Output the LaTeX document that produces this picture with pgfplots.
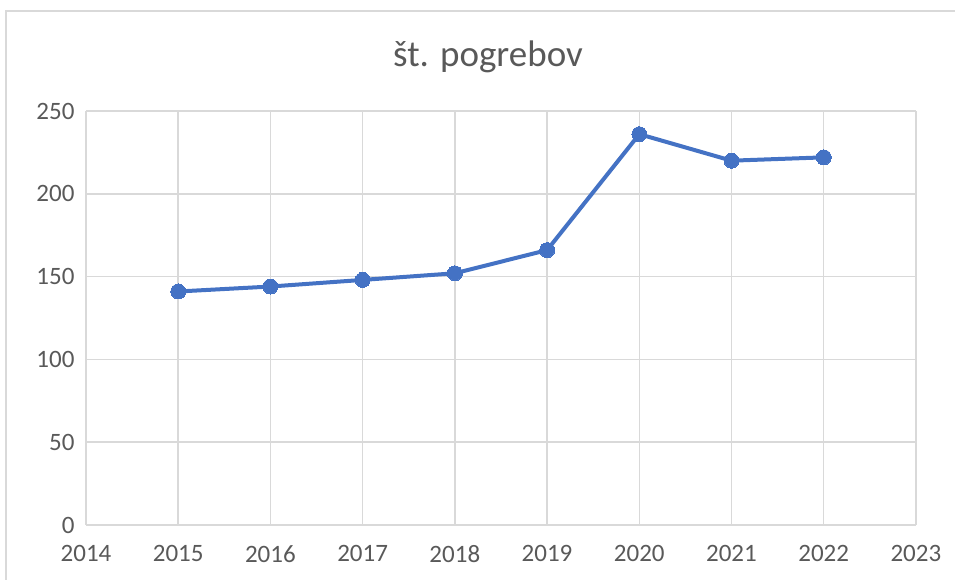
\documentclass[border=0pt]{standalone}
\usepackage{pgfplots}
\pgfplotsset{compat=1.18}
\usepackage{fontspec}
\setmainfont{Carlito}
\definecolor{linec}{HTML}{4472C4}
\definecolor{gridc}{HTML}{D9D9D9}
\definecolor{textc}{HTML}{595959}
\begin{document}
\begin{tikzpicture}[x=1pt,y=1pt]
\useasboundingbox (0,0) rectangle (955,580);
\draw[gridc, line width=1.2pt] (6,0) -- (6,569) -- (955,569);
\node[text=textc, font=\fontsize{37}{40}\selectfont] at (488,523) {št. pogrebov};
\begin{axis}[
  at={(86pt,55pt)}, anchor=origin,
  scale only axis, width=830pt, height=414pt,
  xmin=2014, xmax=2023, ymin=0, ymax=250,
  xtick={2014,...,2023}, ytick={0,50,...,250},
  axis lines*=left,
  x axis line style={gridc, line width=1.5pt, -},
  y axis line style={draw=none},
  grid=major, major grid style={gridc, line width=1.5pt},
  tick style={draw=none},
  xticklabel style={text=textc, font=\fontsize{25}{28}\selectfont, yshift=-17pt},
  yticklabel style={text=textc, font=\fontsize{25}{28}\selectfont, xshift=-8pt},
  /pgf/number format/assume math mode=true,
  /pgf/number format/1000 sep={},
  clip=false,
]
\addplot[linec, line width=4pt, mark=*, mark size=7.5pt, mark options={fill=linec, draw=linec, line width=0pt}]
  coordinates {(2015,141) (2016,144) (2017,148) (2018,152) (2019,166) (2020,236) (2021,220) (2022,222)};
\end{axis}
\end{tikzpicture}
\end{document}
